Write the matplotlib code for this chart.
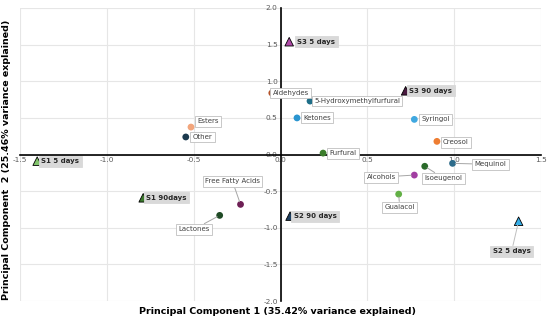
import numpy as np
from matplotlib import pyplot as plt

# campioni (triangoli)
campioni = ["S1 5 days", "S1 90days", "S2 5 days", "S2 90 days", "S3 5 days", "S3 90 days"]
pc1_c = np.array([-1.40, -0.79, 1.37, 0.055, 0.05, 0.72])
pc2_c = np.array([-0.09, -0.59, -0.91, -0.84, 1.54, 0.87])
col_c = ["#82c46c", "#3d7a2e", "#35aee8", "#1d3f60", "#b04aa8", "#4a1a40"]

# variabili (cerchi)
variabili = ["Aldehydes", "5-Hydroxymethylfurfural", "Ketones", "Syringol", "Creosol",
             "Furfural", "Mequinol", "Isoeugenol", "Alcohols", "Guaiacol",
             "Free Fatty Acids", "Lactones", "Esters", "Other"]
pc1_v = np.array([-0.05, 0.17, 0.095, 0.77, 0.90, 0.245, 0.99, 0.83, 0.77, 0.68, -0.23, -0.35, -0.515, -0.545])
pc2_v = np.array([0.84, 0.73, 0.50, 0.48, 0.18, 0.02, -0.12, -0.16, -0.28, -0.54, -0.68, -0.83, 0.375, 0.24])
col_v = ["#b5532a", "#1e6e88", "#2a95d0", "#40a8e0", "#ee7d32", "#3b7d2b", "#2d6b8a",
         "#2a6a2a", "#a23ea2", "#62b045", "#6e1f55", "#1f4a25", "#f2a57c", "#1b3a4e"]

# spostamento etichette in pixel (dx, dy), True = linea guida
off_c = {"S1 5 days": (23, 0, False), "S1 90days": (23, 0, False), "S2 5 days": (-7, -30, True),
         "S2 90 days": (25, 0, False), "S3 5 days": (27, 0, False), "S3 90 days": (25, 0, False)}
off_v = {"Aldehydes": (19, 0, False), "5-Hydroxymethylfurfural": (47, 0, False), "Ketones": (20, 0, False),
         "Syringol": (21, 0, False), "Creosol": (19, -1, False), "Furfural": (20, 0, False),
         "Mequinol": (38, -1, True), "Isoeugenol": (19, -12, True), "Alcohols": (-33, -2, True),
         "Guaiacol": (1, -13, True), "Free Fatty Acids": (-8, 23, True), "Lactones": (-26, -14, True),
         "Esters": (17, 6, False), "Other": (17, 0, False)}

fig = plt.figure(figsize=(5.5, 3.2), dpi=100)
ax = fig.add_axes([0.036, 0.059, 0.948, 0.916])

ax.set_xlim(-1.5, 1.5)
ax.set_ylim(-2.0, 2.0)
ax.set_xticks(np.arange(-1.5, 1.51, 0.5))
ax.set_yticks(np.arange(-2.0, 2.01, 0.5))
ax.xaxis.set_major_formatter(plt.FormatStrFormatter('%.1f'))
ax.yaxis.set_major_formatter(plt.FormatStrFormatter('%.1f'))
ax.grid(color="#e6e6e6", lw=0.8)
ax.set_axisbelow(True)

ax.spines['left'].set_position(('data', 0))
ax.spines['bottom'].set_position(('data', 0))
ax.spines['right'].set_visible(False)
ax.spines['top'].set_visible(False)
ax.spines['left'].set_linewidth(1.2)
ax.spines['bottom'].set_linewidth(1.2)
ax.tick_params(length=0, labelsize=5.3, labelcolor="#595959", pad=2)

ax.scatter(pc1_v, pc2_v, s=24, c=col_v, zorder=4, edgecolors="none")
ax.scatter(pc1_c, pc2_c, s=38, c=col_c, marker="^", edgecolors="black", linewidths=0.6, zorder=4)

box_v = dict(boxstyle="square,pad=0.35", fc="white", ec="#bfbfbf", lw=0.6)
box_c = dict(boxstyle="square,pad=0.35", fc="#d9d9d9", ec="#d9d9d9", lw=0.6)

for nome, x, y in zip(variabili, pc1_v, pc2_v):
    dx, dy, guida = off_v[nome]
    ax.annotate(nome, (x, y), xytext=(dx*0.72, dy*0.72), textcoords="offset points",
                ha="center", va="center", fontsize=5, color="#404040", bbox=box_v, zorder=5,
                arrowprops=dict(arrowstyle="-", color="#a6a6a6", lw=0.7, shrinkA=0, shrinkB=2) if guida else None)

for nome, x, y in zip(campioni, pc1_c, pc2_c):
    dx, dy, guida = off_c[nome]
    ax.annotate(nome, (x, y), xytext=(dx*0.72, dy*0.72), textcoords="offset points",
                ha="center", va="center", fontsize=5, fontweight="bold", color="#262626", bbox=box_c, zorder=5,
                arrowprops=dict(arrowstyle="-", color="#bfbfbf", lw=0.7, shrinkA=0, shrinkB=3) if guida else None)

fig.text(0.505, 0.012, "Principal Component 1 (35.42% variance explained)", ha="center", va="bottom",
         fontsize=6.8, fontweight="bold")
fig.text(0.004, 0.50, "Principal Component  2 (25.46% variance explained)", ha="center", va="top",
         rotation=90, rotation_mode="anchor", fontsize=6.8, fontweight="bold")

plt.savefig("out.png", dpi=100)
